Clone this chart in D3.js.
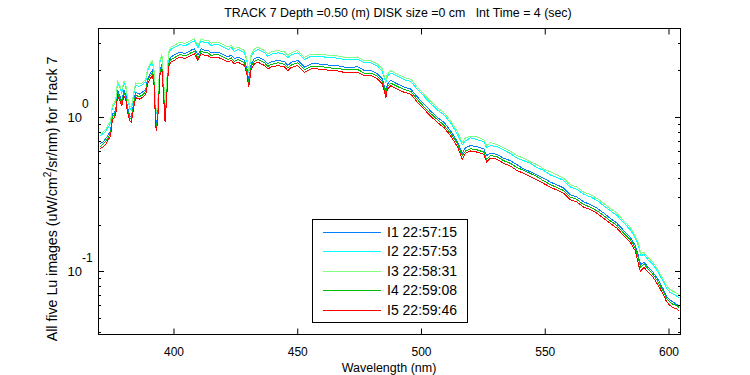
<!DOCTYPE html>
<html>
<head>
<meta charset="utf-8">
<script src="https://cdn.jsdelivr.net/npm/d3@7"></script>
<style>
  body { margin: 0; background: #fff; }
  svg { font-family: Arial, "Liberation Sans", sans-serif; }
  text { white-space: pre; }
</style>
</head>
<body>
<svg id="chart" width="750" height="375"></svg>
<script>
// wavelength grid (nm)
const wavelengths = [370.5,371.9,372.8,373.5,374.8,375.5,376.2,376.9,377.6,378.5,379.3,380.2,380.9,381.6,382.5,383.2,384.0,384.9,386.3,387.6,
  389.0,389.7,390.7,391.7,392.4,393.0,393.4,394.0,394.7,395.5,396.2,396.8,397.5,398.2,399.1,400.5,401.9,403.3,404.6,406.0,
  407.3,408.7,410.1,411.4,412.7,414.1,415.4,416.8,418.1,419.4,420.8,422.2,423.5,424.8,426.2,427.5,428.9,430.0,430.6,431.6,
  432.9,434.3,435.6,437.0,438.3,439.7,442.4,445.1,446.4,447.7,450.4,453.1,455.8,458.5,461.1,463.8,466.5,469.2,471.9,474.5,
  477.2,479.9,482.6,484.6,486.0,486.6,488.0,490.7,493.4,496.1,498.8,501.4,504.1,506.8,509.5,512.2,514.9,516.9,518.2,520.2,
  522.9,525.6,526.7,528.3,531.0,533.5,536.2,538.9,541.6,544.3,547.0,549.7,552.4,555.1,557.8,560.5,563.2,565.9,568.6,571.3,
  574.0,576.6,579.3,582.0,584.7,586.7,587.8,588.5,589.0,590.3,592.0,594.0,596.0,598.0,599.3,600.7,602.0,603.4,604.5];

const lu1 = [0.67,0.69,0.72,0.75,0.81,1.04,1.06,1.12,1.48,1.37,1.27,1.48,1.40,1.16,1.02,0.99,1.21,1.44,1.40,1.44,
  1.51,1.76,1.90,2.00,1.72,0.96,0.90,1.16,2.00,2.20,1.49,1.01,1.48,2.27,2.44,2.51,2.59,2.62,2.57,2.62,
  2.70,2.76,2.51,2.76,2.70,2.70,2.59,2.62,2.62,2.57,2.51,2.44,2.51,2.38,2.44,2.38,2.32,2.00,1.70,2.20,
  2.38,2.44,2.38,2.32,2.20,2.27,2.32,2.27,2.15,2.25,2.32,2.10,2.20,2.20,2.18,2.15,2.14,2.10,2.08,2.11,
  2.00,2.00,1.90,1.76,1.46,1.63,1.72,1.63,1.56,1.51,1.34,1.21,1.09,0.99,0.92,0.81,0.69,0.58,0.63,0.65,
  0.64,0.62,0.56,0.58,0.57,0.54,0.52,0.49,0.46,0.44,0.42,0.40,0.378,0.362,0.346,0.313,0.302,0.281,0.27,0.256,
  0.238,0.22,0.205,0.184,0.166,0.147,0.13,0.116,0.11,0.114,0.106,0.098,0.088,0.077,0.069,0.065,0.063,0.061,0.059];

const lu2 = [0.75,0.78,0.80,0.84,0.91,1.16,1.19,1.26,1.66,1.54,1.43,1.66,1.57,1.30,1.14,1.11,1.36,1.61,1.57,1.61,
  1.69,1.97,2.13,2.24,1.92,1.10,1.04,1.31,2.24,2.47,1.68,1.15,1.66,2.54,2.73,2.81,2.90,2.94,2.88,2.94,
  3.03,3.10,2.81,3.10,3.03,3.03,2.90,2.94,2.94,2.88,2.81,2.73,2.81,2.66,2.73,2.66,2.60,2.24,1.92,2.47,
  2.66,2.73,2.66,2.60,2.47,2.54,2.60,2.54,2.41,2.52,2.60,2.35,2.47,2.47,2.44,2.41,2.40,2.35,2.34,2.36,
  2.24,2.24,2.13,1.97,1.66,1.83,1.92,1.83,1.74,1.69,1.50,1.36,1.22,1.11,1.03,0.91,0.77,0.66,0.70,0.73,
  0.71,0.69,0.63,0.65,0.64,0.61,0.58,0.54,0.52,0.50,0.47,0.45,0.42,0.405,0.387,0.351,0.339,0.315,0.303,0.287,
  0.266,0.247,0.23,0.206,0.186,0.165,0.15,0.138,0.126,0.128,0.118,0.11,0.098,0.086,0.078,0.073,0.071,0.069,0.067];

const lu3 = [0.77,0.80,0.83,0.87,0.94,1.20,1.22,1.30,1.71,1.59,1.48,1.71,1.63,1.34,1.18,1.15,1.40,1.66,1.63,1.66,
  1.75,2.04,2.20,2.31,1.99,1.14,1.07,1.35,2.31,2.55,1.73,1.19,1.72,2.63,2.83,2.90,3.00,3.04,2.98,3.04,
  3.13,3.20,2.90,3.20,3.13,3.13,3.00,3.04,3.04,2.98,2.90,2.83,2.90,2.75,2.83,2.75,2.69,2.31,1.98,2.55,
  2.75,2.83,2.75,2.69,2.55,2.63,2.69,2.63,2.49,2.60,2.69,2.43,2.55,2.55,2.53,2.49,2.48,2.43,2.41,2.44,
  2.31,2.31,2.20,2.04,1.71,1.89,1.99,1.89,1.80,1.75,1.55,1.40,1.26,1.15,1.06,0.94,0.80,0.68,0.73,0.75,
  0.74,0.71,0.65,0.68,0.66,0.63,0.60,0.56,0.54,0.51,0.49,0.46,0.44,0.42,0.40,0.363,0.35,0.325,0.313,0.296,
  0.275,0.255,0.238,0.213,0.193,0.17,0.155,0.143,0.13,0.132,0.122,0.114,0.101,0.089,0.081,0.076,0.074,0.072,0.070];

const lu4 = [0.64,0.67,0.69,0.72,0.78,1.00,1.02,1.08,1.42,1.32,1.23,1.42,1.35,1.11,0.98,0.96,1.16,1.38,1.35,1.38,
  1.46,1.70,1.83,1.92,1.65,0.92,0.86,1.11,1.92,2.12,1.43,0.97,1.43,2.18,2.35,2.41,2.50,2.53,2.48,2.53,
  2.60,2.66,2.41,2.66,2.60,2.60,2.50,2.53,2.53,2.48,2.41,2.35,2.41,2.29,2.35,2.29,2.24,1.92,1.63,2.12,
  2.29,2.35,2.29,2.24,2.12,2.18,2.24,2.18,2.07,2.16,2.24,2.02,2.12,2.12,2.10,2.07,2.06,2.02,2.01,2.03,
  1.92,1.92,1.83,1.70,1.40,1.57,1.65,1.57,1.50,1.46,1.29,1.16,1.05,0.96,0.88,0.78,0.67,0.56,0.60,0.62,
  0.61,0.59,0.53,0.56,0.55,0.52,0.50,0.47,0.45,0.43,0.41,0.385,0.364,0.348,0.333,0.302,0.291,0.27,0.26,0.246,
  0.229,0.212,0.198,0.177,0.160,0.142,0.125,0.112,0.106,0.111,0.103,0.095,0.085,0.074,0.067,0.063,0.061,0.060,0.058];

const lu5 = [0.62,0.64,0.66,0.695,0.75,0.96,0.98,1.04,1.37,1.27,1.18,1.37,1.30,1.07,0.94,0.92,1.12,1.33,1.30,1.33,
  1.40,1.63,1.76,1.85,1.59,0.87,0.81,1.07,1.85,2.04,1.37,0.92,1.37,2.10,2.26,2.32,2.40,2.43,2.38,2.43,
  2.50,2.56,2.32,2.56,2.50,2.50,2.40,2.43,2.43,2.38,2.32,2.26,2.32,2.20,2.26,2.20,2.15,1.85,1.55,2.04,
  2.20,2.26,2.20,2.15,2.04,2.10,2.15,2.10,1.99,2.08,2.15,1.94,2.04,2.04,2.02,1.99,1.98,1.94,1.93,1.95,
  1.85,1.85,1.76,1.63,1.33,1.51,1.59,1.51,1.44,1.40,1.24,1.12,1.01,0.92,0.85,0.75,0.64,0.53,0.58,0.60,
  0.59,0.57,0.51,0.54,0.53,0.50,0.48,0.45,0.43,0.41,0.39,0.37,0.35,0.335,0.32,0.29,0.28,0.26,0.25,0.237,
  0.22,0.204,0.19,0.17,0.154,0.136,0.117,0.103,0.100,0.106,0.098,0.091,0.081,0.071,0.064,0.060,0.058,0.057,0.055];

const seriesNames = ['I1 22:57:15', 'I2 22:57:53', 'I3 22:58:31', 'I4 22:59:08', 'I5 22:59:46'];
const seriesColors = ['#0080ff', '#00ffff', '#80ff80', '#00bf00', '#ff0000'];
const xTicks = [400, 450, 500, 550, 600];
const yMajorTicks = [0.1, 1];
const yMinorTicks = [0.04, 0.05, 0.06, 0.07, 0.08, 0.09, 0.2, 0.3, 0.4, 0.5, 0.6, 0.7, 0.8, 0.9, 2, 3];

const svg = d3.select('#chart');
const box = { left: 98, right: 680, top: 28, bottom: 334 };

const x = d3.scaleLinear().domain([369.7, 604.85]).range([box.left, box.right]);
const y = d3.scaleLog().domain([0.0391, 3.76]).range([box.bottom, box.top]);

// clip so lines stay in the frame
svg.append('defs').append('clipPath').attr('id', 'clip')
  .append('rect')
  .attr('x', box.left).attr('y', box.top)
  .attr('width', box.right - box.left).attr('height', box.bottom - box.top);

// spectra (aliased like the original screen plot)
const allSeries = [lu1, lu2, lu3, lu4, lu5];
const line = d3.line()
  .x((d, i) => x(wavelengths[i]))
  .y(d => y(d));

svg.append('g')
  .attr('clip-path', 'url(#clip)')
  .selectAll('path')
  .data(allSeries)
  .join('path')
  .attr('fill', 'none')
  .attr('stroke', (d, i) => seriesColors[i])
  .attr('stroke-width', 1)
  .attr('shape-rendering', 'crispEdges')
  .attr('d', d => line(d));

// frame
svg.append('rect')
  .attr('x', box.left + 0.5).attr('y', box.top + 0.5)
  .attr('width', box.right - box.left).attr('height', box.bottom - box.top)
  .attr('fill', 'none').attr('stroke', '#000').attr('shape-rendering', 'crispEdges');

// x ticks, bottom with labels, top mirrored
svg.append('g')
  .attr('transform', `translate(0.5,${box.bottom + 0.5})`)
  .call(d3.axisBottom(x).tickValues(xTicks).tickSizeInner(-6).tickSizeOuter(0).tickPadding(13))
  .call(g => g.select('.domain').remove())
  .call(g => g.selectAll('text').attr('font-size', 12).attr('font-family', 'Arial, "Liberation Sans", sans-serif').attr('fill', '#000'));

svg.append('g')
  .attr('transform', `translate(0.5,${box.top + 0.5})`)
  .call(d3.axisTop(x).tickValues(xTicks).tickSizeInner(-6).tickSizeOuter(0).tickFormat(''))
  .call(g => g.select('.domain').remove());

// y ticks on both sides
const yTickGroup = svg.append('g').attr('shape-rendering', 'crispEdges');
[[yMajorTicks, 6], [yMinorTicks, 3]].forEach(([vals, len]) => {
  yTickGroup.selectAll(null).data(vals).join('line')
    .attr('x1', box.left).attr('x2', box.left + len)
    .attr('y1', d => Math.round(y(d)) + 0.5).attr('y2', d => Math.round(y(d)) + 0.5)
    .attr('stroke', '#000');
  yTickGroup.selectAll(null).data(vals).join('line')
    .attr('x1', box.right + 1).attr('x2', box.right + 1 - len)
    .attr('y1', d => Math.round(y(d)) + 0.5).attr('y2', d => Math.round(y(d)) + 0.5)
    .attr('stroke', '#000');
});

// y tick labels as 10^n
const yLabels = svg.append('g').attr('fill', '#000');
yMajorTicks.forEach(v => {
  const yy = y(v);
  yLabels.append('text')
    .attr('x', 82).attr('y', yy + 5)
    .attr('text-anchor', 'end').attr('font-size', 13)
    .text('10');
  yLabels.append('text')
    .attr('x', 82).attr('y', yy - 9)
    .attr('font-size', 12)
    .text(Math.round(Math.log10(v)));
});

// title and axis labels
svg.append('text')
  .attr('x', 398).attr('y', 17)
  .attr('text-anchor', 'middle').attr('font-size', 12.4)
  .text('TRACK 7 Depth =0.50 (m) DISK size =0 cm   Int Time = 4 (sec)');

svg.append('text')
  .attr('x', 389).attr('y', 372)
  .attr('text-anchor', 'middle').attr('font-size', 12.5)
  .text('Wavelength (nm)');

const yTitle = svg.append('text')
  .attr('transform', `translate(57,199) rotate(-90)`)
  .attr('text-anchor', 'middle').attr('font-size', 14.2);
yTitle.append('tspan').text('All five Lu images (uW/cm');
yTitle.append('tspan').attr('font-size', 10).attr('dy', -6).text('2');
yTitle.append('tspan').attr('dy', 6).text('/sr/nm) for Track 7');

// legend
const legend = svg.append('g');
legend.append('rect')
  .attr('x', 312.5).attr('y', 219.5).attr('width', 155).attr('height', 103)
  .attr('fill', '#fff').attr('stroke', '#000').attr('shape-rendering', 'crispEdges');
const rowY = d3.scalePoint().domain(seriesNames).range([232, 309.5]);
legend.selectAll('line').data(seriesNames).join('line')
  .attr('x1', 323).attr('x2', 381)
  .attr('y1', d => Math.round(rowY(d)) + 0.5).attr('y2', d => Math.round(rowY(d)) + 0.5)
  .attr('stroke', (d, i) => seriesColors[i]).attr('shape-rendering', 'crispEdges');
legend.selectAll('text').data(seriesNames).join('text')
  .attr('x', 387).attr('y', d => rowY(d) + 5)
  .attr('font-size', 14)
  .text(d => d);
</script>
</body>
</html>
